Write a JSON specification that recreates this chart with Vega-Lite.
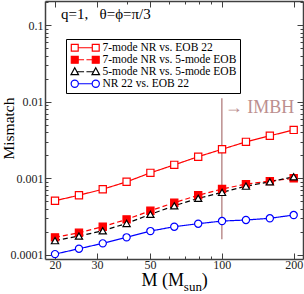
{
  "$schema": "https://vega.github.io/schema/vega-lite/v6.json",
  "width": 258,
  "height": 258,
  "autosize": "none",
  "padding": {"left": 45, "top": 1, "right": 1, "bottom": 35},
  "background": "white",
  "config": {
    "view": {"stroke": null},
    "font": "Liberation Serif",
    "axis": {
      "domainColor": "#404040",
      "domainWidth": 1.5,
      "tickColor": "#404040",
      "tickWidth": 1,
      "grid": false,
      "labelFont": "Liberation Serif",
      "labelFontSize": 12,
      "labelColor": "#222222",
      "labelOverlap": false,
      "labelFlush": false
    }
  },
  "data": {
    "values": [
      {"series": "7-mode NR vs. EOB 22", "M": 20, "mismatch": 0.00051},
      {"series": "7-mode NR vs. EOB 22", "M": 25.2, "mismatch": 0.0006},
      {"series": "7-mode NR vs. EOB 22", "M": 31.7, "mismatch": 0.00072},
      {"series": "7-mode NR vs. EOB 22", "M": 39.9, "mismatch": 0.0009},
      {"series": "7-mode NR vs. EOB 22", "M": 50.2, "mismatch": 0.00118},
      {"series": "7-mode NR vs. EOB 22", "M": 63.2, "mismatch": 0.0015},
      {"series": "7-mode NR vs. EOB 22", "M": 79.6, "mismatch": 0.00192},
      {"series": "7-mode NR vs. EOB 22", "M": 100.2, "mismatch": 0.0024},
      {"series": "7-mode NR vs. EOB 22", "M": 126.2, "mismatch": 0.003},
      {"series": "7-mode NR vs. EOB 22", "M": 158.9, "mismatch": 0.0036},
      {"series": "7-mode NR vs. EOB 22", "M": 200, "mismatch": 0.0043},
      {"series": "7-mode NR vs. 5-mode EOB", "M": 20, "mismatch": 0.000169},
      {"series": "7-mode NR vs. 5-mode EOB", "M": 25.2, "mismatch": 0.000194},
      {"series": "7-mode NR vs. 5-mode EOB", "M": 31.7, "mismatch": 0.000233},
      {"series": "7-mode NR vs. 5-mode EOB", "M": 39.9, "mismatch": 0.00029},
      {"series": "7-mode NR vs. 5-mode EOB", "M": 50.2, "mismatch": 0.000377},
      {"series": "7-mode NR vs. 5-mode EOB", "M": 63.2, "mismatch": 0.00048},
      {"series": "7-mode NR vs. 5-mode EOB", "M": 79.6, "mismatch": 0.0006},
      {"series": "7-mode NR vs. 5-mode EOB", "M": 100.2, "mismatch": 0.000725},
      {"series": "7-mode NR vs. 5-mode EOB", "M": 126.2, "mismatch": 0.00084},
      {"series": "7-mode NR vs. 5-mode EOB", "M": 158.9, "mismatch": 0.00092},
      {"series": "7-mode NR vs. 5-mode EOB", "M": 200, "mismatch": 0.001},
      {"series": "5-mode NR vs. 5-mode EOB", "M": 20, "mismatch": 0.000153},
      {"series": "5-mode NR vs. 5-mode EOB", "M": 25.2, "mismatch": 0.000176},
      {"series": "5-mode NR vs. 5-mode EOB", "M": 31.7, "mismatch": 0.000206},
      {"series": "5-mode NR vs. 5-mode EOB", "M": 39.9, "mismatch": 0.000257},
      {"series": "5-mode NR vs. 5-mode EOB", "M": 50.2, "mismatch": 0.000338},
      {"series": "5-mode NR vs. 5-mode EOB", "M": 63.2, "mismatch": 0.000437},
      {"series": "5-mode NR vs. 5-mode EOB", "M": 79.6, "mismatch": 0.000547},
      {"series": "5-mode NR vs. 5-mode EOB", "M": 100.2, "mismatch": 0.000655},
      {"series": "5-mode NR vs. 5-mode EOB", "M": 126.2, "mismatch": 0.00079},
      {"series": "5-mode NR vs. 5-mode EOB", "M": 158.9, "mismatch": 0.0009},
      {"series": "5-mode NR vs. 5-mode EOB", "M": 200, "mismatch": 0.00105},
      {"series": "NR 22 vs. EOB 22", "M": 20, "mismatch": 0.000102},
      {"series": "NR 22 vs. EOB 22", "M": 25.2, "mismatch": 0.00012},
      {"series": "NR 22 vs. EOB 22", "M": 31.7, "mismatch": 0.000141},
      {"series": "NR 22 vs. EOB 22", "M": 39.9, "mismatch": 0.000169},
      {"series": "NR 22 vs. EOB 22", "M": 50.2, "mismatch": 0.000204},
      {"series": "NR 22 vs. EOB 22", "M": 63.2, "mismatch": 0.000233},
      {"series": "NR 22 vs. EOB 22", "M": 79.6, "mismatch": 0.000255},
      {"series": "NR 22 vs. EOB 22", "M": 100.2, "mismatch": 0.000276},
      {"series": "NR 22 vs. EOB 22", "M": 126.2, "mismatch": 0.000285},
      {"series": "NR 22 vs. EOB 22", "M": 158.9, "mismatch": 0.0003},
      {"series": "NR 22 vs. EOB 22", "M": 200, "mismatch": 0.000331}
    ]
  },
  "layer": [
    {
      "mark": {"type": "rule", "color": "#bc8f8f", "strokeWidth": 1.5},
      "encoding": {
        "x": {"datum": 100, "type": "quantitative", "axis": null},
        "y": {"datum": 0.0112, "type": "quantitative", "axis": null},
        "y2": {"datum": 0.00016}
      },
      "data": {"values": [{}]}
    },
    {
      "mark": {"type": "line", "strokeWidth": 1.2},
      "encoding": {
        "x": {
          "field": "M", "type": "quantitative",
          "scale": {"type": "log", "domain": [18.16, 218.8], "nice": false},
          "axis": {
            "orient": "bottom",
            "values": [20, 30, 40, 50, 60, 70, 80, 90, 100, 200],
            "format": "d",
            "labelExpr": "indexof([20,30,50,100,200], datum.value) >= 0 ? datum.label : ''",
            "tickSize": {"condition": {"test": "indexof([20,30,50,100,200], datum.value) >= 0", "value": -6}, "value": -3},
            "labelPadding": 6,
            "title": null
          }
        },
        "y": {
          "field": "mismatch", "type": "quantitative",
          "scale": {"type": "log", "domain": [0.000088, 0.209], "nice": false},
          "axis": {
            "orient": "left",
            "values": [0.0001, 0.0002, 0.0003, 0.0004, 0.0005, 0.0006, 0.0007, 0.0008, 0.0009, 0.001, 0.002, 0.003, 0.004, 0.005, 0.006, 0.007, 0.008, 0.009, 0.01, 0.02, 0.03, 0.04, 0.05, 0.06, 0.07, 0.08, 0.09, 0.1, 0.2],
            "format": "~g",
            "labelExpr": "indexof([0.0001,0.001,0.01,0.1], datum.value) >= 0 ? datum.label : ''",
            "tickSize": {"condition": {"test": "indexof([0.0001,0.001,0.01,0.1], datum.value) >= 0", "value": -6}, "value": -3},
            "labelPadding": 8,
            "title": "Mismatch",
            "titleFont": "Liberation Serif",
            "titleFontSize": 15.5,
            "titleFontWeight": "normal",
            "titleColor": "black",
            "titleX": -37,
            "titleY": 127,
            "titleAlign": "center",
            "titleBaseline": "middle",
            "titleAngle": 270
          }
        },
        "stroke": {
          "field": "series", "type": "nominal",
          "scale": {"domain": ["7-mode NR vs. EOB 22", "7-mode NR vs. 5-mode EOB", "5-mode NR vs. 5-mode EOB", "NR 22 vs. EOB 22"], "range": ["#ff0000", "#ff0000", "#000000", "#0000ff"]},
          "legend": null
        },
        "strokeDash": {
          "field": "series", "type": "nominal",
          "scale": {"domain": ["7-mode NR vs. EOB 22", "7-mode NR vs. 5-mode EOB", "5-mode NR vs. 5-mode EOB", "NR 22 vs. EOB 22"], "range": [[1, 0], [5, 3], [5, 3], [1, 0]]},
          "legend": null
        }
      }
    },
    {
      "mark": {"type": "point", "filled": true, "strokeWidth": 1.2, "opacity": 1, "size": 52},
      "encoding": {
        "x": {
          "field": "M", "type": "quantitative",
          "axis": {
            "orient": "top",
            "values": [20, 30, 40, 50, 60, 70, 80, 90, 100, 200],
            "labels": false,
            "tickSize": {"condition": {"test": "indexof([20,30,50,100,200], datum.value) >= 0", "value": -6}, "value": -3},
            "title": null
          }
        },
        "y": {
          "field": "mismatch", "type": "quantitative",
          "axis": {
            "orient": "right",
            "values": [0.0001, 0.0002, 0.0003, 0.0004, 0.0005, 0.0006, 0.0007, 0.0008, 0.0009, 0.001, 0.002, 0.003, 0.004, 0.005, 0.006, 0.007, 0.008, 0.009, 0.01, 0.02, 0.03, 0.04, 0.05, 0.06, 0.07, 0.08, 0.09, 0.1, 0.2],
            "labels": false,
            "tickSize": {"condition": {"test": "indexof([0.0001,0.001,0.01,0.1], datum.value) >= 0", "value": -6}, "value": -3},
            "title": null
          }
        },
        "stroke": {"field": "series", "type": "nominal", "legend": null},
        "fill": {
          "field": "series", "type": "nominal",
          "scale": {"domain": ["7-mode NR vs. EOB 22", "7-mode NR vs. 5-mode EOB", "5-mode NR vs. 5-mode EOB", "NR 22 vs. EOB 22"], "range": ["#ffffff", "#ff0000", "#ffffff", "#ffffff"]},
          "legend": null
        },
        "shape": {
          "field": "series", "type": "nominal",
          "scale": {"domain": ["7-mode NR vs. EOB 22", "7-mode NR vs. 5-mode EOB", "5-mode NR vs. 5-mode EOB", "NR 22 vs. EOB 22"], "range": ["square", "square", "triangle-up", "circle"]},
          "legend": null
        }
      }
    },
    {
      "transform": [{"filter": "false"}],
      "mark": {"type": "point", "filled": true, "strokeWidth": 1.2, "opacity": 1},
      "encoding": {
        "shape": {
          "field": "series", "type": "nominal",
          "scale": {"domain": ["7-mode NR vs. EOB 22", "7-mode NR vs. 5-mode EOB", "5-mode NR vs. 5-mode EOB", "NR 22 vs. EOB 22"],
            "range": [
              "M-1.15,-1.15H1.15V1.15H-1.15Z M1.15,0H5.85 M5.85,-1.15H8.15V1.15H5.85Z",
              "M-1.15,-1.15H1.15V1.15H-1.15Z M1.15,0H3.1 M3.9,0H5.85 M5.85,-1.15H8.15V1.15H5.85Z",
              "M0,-1.35L1.25,0.95H-1.25Z M0.8,0H3.1 M3.9,0H6.2 M7,-1.35L8.25,0.95H5.75Z",
              "M-1.2,0A1.2,1.2,0,1,0,1.2,0A1.2,1.2,0,1,0,-1.2,0Z M1.2,0H5.8 M5.8,0A1.2,1.2,0,1,0,8.2,0A1.2,1.2,0,1,0,5.8,0Z"
            ]},
          "legend": {"orient": "none", "legendX": 21, "legendY": 38, "title": null, "padding": 3, "strokeColor": "black", "fillColor": "white", "labelFont": "Liberation Serif", "labelFontSize": 11.5, "labelColor": "black", "labelOffset": 22, "symbolSize": 36, "symbolStrokeWidth": 1.2, "symbolOpacity": 1, "rowPadding": -3, "labelLimit": 300}
        },
        "stroke": {"field": "series", "type": "nominal",
          "legend": {"orient": "none", "legendX": 21, "legendY": 38, "title": null, "padding": 3, "strokeColor": "black", "fillColor": "white", "labelFont": "Liberation Serif", "labelFontSize": 11.5, "labelColor": "black", "labelOffset": 22, "symbolSize": 36, "symbolStrokeWidth": 1.2, "symbolOpacity": 1, "rowPadding": -3, "labelLimit": 300}},
        "fill": {"field": "series", "type": "nominal",
          "legend": {"orient": "none", "legendX": 21, "legendY": 38, "title": null, "padding": 3, "strokeColor": "black", "fillColor": "white", "labelFont": "Liberation Serif", "labelFontSize": 11.5, "labelColor": "black", "labelOffset": 22, "symbolSize": 36, "symbolStrokeWidth": 1.2, "symbolOpacity": 1, "rowPadding": -3, "labelLimit": 300}}
      }
    },
    {
      "data": {"values": [{}]},
      "mark": {"type": "text", "align": "left", "baseline": "middle", "font": "Liberation Serif", "fontSize": 15, "color": "black"},
      "encoding": {
        "x": {"datum": 21.2, "type": "quantitative", "axis": null},
        "y": {"datum": 0.1414, "type": "quantitative", "axis": null},
        "text": {"value": "q=1,\u00a0\u00a0\u00a0θ=ϕ=π/3"}
      }
    },
    {
      "data": {"values": [{}]},
      "mark": {"type": "text", "align": "left", "baseline": "middle", "font": "Liberation Serif", "fontSize": 18, "color": "#bc8f8f"},
      "encoding": {
        "x": {"datum": 102.8, "type": "quantitative", "axis": null},
        "y": {"datum": 0.0082, "type": "quantitative", "axis": null},
        "text": {"value": "→\u00a0IMBH"}
      }
    },
    {
      "data": {"values": [{}]},
      "mark": {"type": "text", "align": "left", "baseline": "alphabetic", "font": "Liberation Serif", "fontSize": 18, "color": "black"},
      "encoding": {
        "x": {"datum": 46.1, "type": "quantitative", "axis": null},
        "y": {"datum": 0.0000385, "type": "quantitative", "axis": null},
        "text": {"value": "M (M"}
      }
    },
    {
      "data": {"values": [{}]},
      "mark": {"type": "text", "align": "left", "baseline": "alphabetic", "font": "Liberation Serif", "fontSize": 13, "color": "black"},
      "encoding": {
        "x": {"datum": 69.3, "type": "quantitative", "axis": null},
        "y": {"datum": 0.0000335, "type": "quantitative", "axis": null},
        "text": {"value": "sun"}
      }
    },
    {
      "data": {"values": [{}]},
      "mark": {"type": "text", "align": "left", "baseline": "alphabetic", "font": "Liberation Serif", "fontSize": 18, "color": "black"},
      "encoding": {
        "x": {"datum": 82.4, "type": "quantitative", "axis": null},
        "y": {"datum": 0.0000385, "type": "quantitative", "axis": null},
        "text": {"value": ")"}
      }
    }
  ],
  "resolve": {
    "scale": {"shape": "independent"},
    "axis": {"x": "independent", "y": "independent"},
    "legend": {"shape": "independent", "stroke": "independent", "fill": "independent"}
  }
}
